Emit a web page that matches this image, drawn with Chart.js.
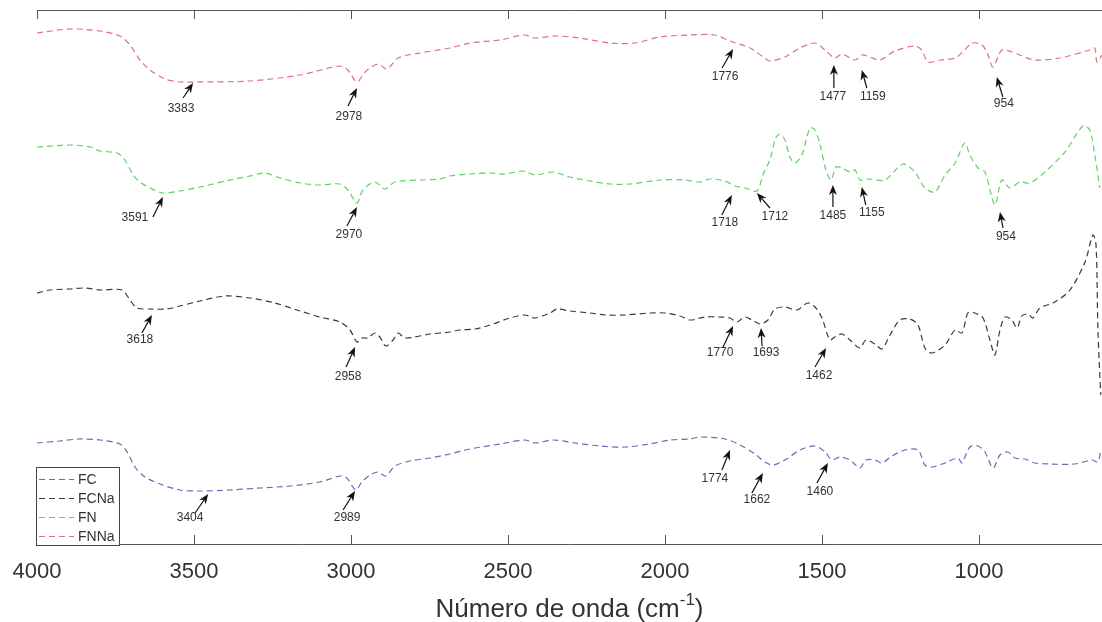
<!DOCTYPE html>
<html>
<head>
<meta charset="utf-8">
<script src="https://cdn.jsdelivr.net/npm/chart.js@4.4.0/dist/chart.umd.min.js"></script>
<style>
  html, body { margin: 0; padding: 0; background: #fff; }
  #wrap { width: 1102px; height: 622px; }
</style>
</head>
<body>
<div id="wrap"><canvas id="c" width="1102" height="622"></canvas></div>
<script>
// --- Dados (número de onda em cm-1, transmitância deslocada em u.a.) ---
const xTicks = [4000, 3500, 3000, 2500, 2000, 1500, 1000];

const fcWn = [4000,3927,3863,3799,3736,3713,3688,3656,3608,3545,3481,3385,3290,3194,3099,3035,3013,2994,2984,2965,2939,2914,2889,2860,2812,2748,2685,2621,2525,2446,2414,2357,2287,2207,2127,2048,1984,1920,1889,1809,1761,1713,1682,1656,1618,1570,1522,1490,1468,1443,1411,1379,1360,1331,1309,1277,1236,1194,1172,1150,1108,1067,1054,1029,1003,981,955,933,908,885,854,822,774,694,640,621,612];
const fcT  = [101,103,105,104,100,92,77,67,60,54,53,54,56,58,62,68,66,57,54,62,69,72,68,78,83,86,90,95,100,104,101,104,101,98,97,100,104,105,107,105,99,90,82,79,84,94,98,92,84,87,84,76,84,84,81,88,94,94,79,77,81,86,81,97,98,92,76,89,92,86,85,81,80,80,84,82,94];

const fcnaWn = [4000,3959,3895,3847,3799,3729,3704,3682,3640,3586,3545,3481,3401,3322,3242,3162,3099,3035,3003,2981,2965,2946,2924,2908,2889,2866,2850,2828,2748,2685,2653,2605,2557,2494,2446,2414,2366,2344,2303,2239,2191,2127,2048,2000,1952,1920,1873,1825,1793,1771,1745,1723,1697,1672,1650,1618,1580,1545,1522,1500,1475,1459,1436,1411,1379,1360,1331,1309,1283,1252,1220,1194,1172,1150,1108,1076,1054,1035,1013,987,965,949,933,917,895,879,863,844,828,806,758,710,662,637,627,621,612];
const fcnaT  = [251,254,255,256,254,254,244,236,235,235,238,243,248,246,241,233,227,222,214,202,206,206,211,207,198,204,211,206,210,212,214,215,219,226,229,226,231,235,233,231,229,229,231,231,228,224,227,227,226,222,227,224,220,224,235,237,234,241,237,226,204,207,210,204,196,204,200,195,209,224,225,219,196,191,199,214,211,231,231,226,204,189,214,227,224,216,228,230,226,236,242,254,282,309,299,214,149];

const fnWn = [4000,3895,3831,3799,3745,3720,3694,3672,3640,3599,3545,3481,3385,3322,3274,3226,3162,3099,3035,3010,2981,2962,2924,2892,2860,2780,2717,2685,2621,2557,2510,2452,2414,2357,2303,2239,2175,2111,2016,1936,1889,1857,1809,1777,1745,1707,1688,1666,1647,1634,1618,1602,1586,1564,1538,1522,1506,1487,1471,1455,1436,1411,1395,1379,1354,1299,1242,1204,1172,1140,1108,1076,1045,1029,1003,981,949,927,901,870,838,790,726,669,647,631,615];
const fnT  = [397,399,397,393,391,384,369,362,356,351,353,357,364,368,371,366,361,359,360,354,341,354,362,355,362,364,365,368,370,371,370,373,369,372,367,363,360,360,364,364,362,365,363,358,356,353,369,384,406,410,404,387,381,389,416,414,399,374,364,377,376,372,374,364,365,364,380,372,356,352,369,381,401,389,376,372,339,364,356,362,361,372,392,418,414,389,356];

const fnnaWn = [4000,3895,3799,3736,3704,3672,3640,3592,3545,3497,3322,3162,3035,3010,2981,2955,2914,2885,2850,2780,2685,2621,2525,2449,2414,2350,2271,2175,2096,2016,1920,1841,1793,1729,1682,1666,1618,1570,1522,1490,1459,1436,1395,1373,1347,1315,1268,1204,1182,1162,1124,1076,1045,1022,990,971,955,927,895,870,822,742,647,631,624,608];
const fnnaT  = [511,515,513,508,499,484,474,465,462,462,463,469,478,474,462,472,480,475,486,491,496,501,504,509,506,508,506,501,501,507,509,509,503,496,486,483,487,496,501,494,486,490,484,489,487,484,493,498,494,482,484,486,494,501,499,489,477,494,492,489,484,486,494,496,482,489];

// rótulos de picos: ponta da seta em (número de onda, transmitância)
const peakText = ['3383','2978','1776','1477','1159','954', '3591','2970','1718','1712','1485','1155','954', '3618','2958','1770','1693','1462', '3404','2989','1774','1662','1460'];
const peakWn   = [3503,2981,1783,1462,1373,943, 3599,2981,1787,1707,1465,1373,933, 3634,2987,1783,1694,1487, 3455,2987,1793,1688,1481];
const peakT    = [461,456,495,479,474,467, 347,337,349,351,359,357,332, 229,197,218,216,196, 50,53,94,71,81];

// desenho das setas (deslocamentos em px a partir da ponta)
const arrowLayout = [
  { tail: [-10, 15], label: [-12, 26] },
  { tail: [-9, 18],  label: [-8, 29] },
  { tail: [-11, 19], label: [-8, 28] },
  { tail: [0, 23],   label: [-1, 32] },
  { tail: [5, 18],   label: [11, 27] },
  { tail: [6, 20],   label: [7, 27] },
  { tail: [-10, 20], label: [-28, 21] },
  { tail: [-10, 19], label: [-8, 28] },
  { tail: [-10, 20], label: [-7, 28] },
  { tail: [13, 15],  label: [18, 24] },
  { tail: [0, 22],   label: [0, 31] },
  { tail: [4, 18],   label: [10, 26] },
  { tail: [3, 16],   label: [6, 25] },
  { tail: [-10, 18], label: [-12, 25] },
  { tail: [-9, 20],  label: [-7, 30] },
  { tail: [-10, 21], label: [-13, 27] },
  { tail: [1, 18],   label: [5, 25] },
  { tail: [-11, 19], label: [-7, 28] },
  { tail: [-13, 19], label: [-18, 24] },
  { tail: [-12, 19], label: [-8, 27] },
  { tail: [-8, 20],  label: [-15, 29] },
  { tail: [-11, 20], label: [-6, 27] },
  { tail: [-11, 20], label: [-8, 29] }
];

const FONT = '"Liberation Sans", Arial, sans-serif';

function toPoints(wn, t) {
  return wn.map((w, i) => ({ x: w, y: t[i] }));
}

function series(label, wn, t, color) {
  return {
    label,
    data: toPoints(wn, t),
    borderColor: color,
    borderWidth: 1.2,
    borderDash: [6, 4],
    pointRadius: 0,
    tension: 0.3,
    fill: false
  };
}

// --- Moldura, setas, legenda e título do eixo ---
const decor = {
  id: 'decor',
  afterDatasetsDraw(chart) {
    const { ctx, chartArea: a, scales: { x, y } } = chart;
    ctx.save();

    // eixos superior e inferior com marcas internas
    ctx.strokeStyle = '#555';
    ctx.lineWidth = 1;
    ctx.setLineDash([]);
    ctx.beginPath();
    ctx.moveTo(a.left, a.top + 0.5); ctx.lineTo(a.right, a.top + 0.5);
    ctx.moveTo(a.left, a.bottom + 0.5); ctx.lineTo(a.right, a.bottom + 0.5);
    xTicks.forEach(v => {
      const px = Math.round(x.getPixelForValue(v)) + 0.5;
      ctx.moveTo(px, a.top); ctx.lineTo(px, a.top + 9);
      ctx.moveTo(px, a.bottom); ctx.lineTo(px, a.bottom - 9);
    });
    ctx.stroke();

    // setas dos picos
    ctx.fillStyle = '#111';
    ctx.strokeStyle = '#111';
    ctx.font = '12px ' + FONT;
    ctx.textAlign = 'center';
    ctx.textBaseline = 'middle';
    peakText.forEach((txt, i) => {
      const tx = x.getPixelForValue(peakWn[i]);
      const ty = y.getPixelForValue(peakT[i]);
      const lay = arrowLayout[i];
      const sx = tx + lay.tail[0], sy = ty + lay.tail[1];
      const ang = Math.atan2(ty - sy, tx - sx);
      const len = 10, half = 4;
      const bx = tx - Math.cos(ang) * len, by = ty - Math.sin(ang) * len;
      const nx = tx - Math.cos(ang) * (len - 3), ny = ty - Math.sin(ang) * (len - 3);
      ctx.lineWidth = 1.2;
      ctx.beginPath();
      ctx.moveTo(sx, sy); ctx.lineTo(nx, ny);
      ctx.stroke();
      ctx.beginPath();
      ctx.moveTo(tx, ty);
      ctx.lineTo(bx + Math.sin(ang) * half, by - Math.cos(ang) * half);
      ctx.lineTo(nx, ny);
      ctx.lineTo(bx - Math.sin(ang) * half, by + Math.cos(ang) * half);
      ctx.closePath();
      ctx.fill();
      ctx.fillStyle = '#333';
      ctx.fillText(txt, tx + lay.label[0], ty + lay.label[1]);
      ctx.fillStyle = '#111';
    });

    // legenda
    const lx = a.left - 1, lw = 83, lh = 78;
    const ly = a.bottom - lh + 1;
    ctx.fillStyle = '#fff';
    ctx.fillRect(lx, ly, lw, lh);
    ctx.strokeStyle = '#444';
    ctx.lineWidth = 1;
    ctx.strokeRect(lx + 0.5, ly + 0.5, lw, lh);
    ctx.font = '14px ' + FONT;
    ctx.textAlign = 'left';
    chart.data.datasets.forEach((ds, i) => {
      const cy = ly + 12 + i * 19;
      ctx.strokeStyle = ds.borderColor;
      ctx.lineWidth = 1.2;
      ctx.setLineDash([6, 4]);
      ctx.beginPath();
      ctx.moveTo(lx + 3, cy + 0.5); ctx.lineTo(lx + 38, cy + 0.5);
      ctx.stroke();
      ctx.setLineDash([]);
      ctx.fillStyle = '#333';
      ctx.fillText(ds.label, lx + 42, cy + 1);
    });

    // título do eixo x com expoente
    const base = 'Número de onda (cm';
    const sup = '-1';
    const tail = ')';
    ctx.fillStyle = '#333';
    ctx.textBaseline = 'alphabetic';
    ctx.font = '26px ' + FONT;
    const w1 = ctx.measureText(base).width;
    const w3 = ctx.measureText(tail).width;
    ctx.font = '17px ' + FONT;
    const w2 = ctx.measureText(sup).width;
    const total = w1 + w2 + w3;
    let cx = (a.left + a.right) / 2 - total / 2;
    const by0 = 617;
    ctx.font = '26px ' + FONT;
    ctx.fillText(base, cx, by0);
    cx += w1;
    ctx.font = '17px ' + FONT;
    ctx.fillText(sup, cx, by0 - 12);
    cx += w2;
    ctx.font = '26px ' + FONT;
    ctx.fillText(tail, cx, by0);

    ctx.restore();
  }
};

new Chart(document.getElementById('c').getContext('2d'), {
  type: 'line',
  data: {
    datasets: [
      series('FC',   fcWn,   fcT,   '#6a6ab4'),
      series('FCNa', fcnaWn, fcnaT, '#3a3a3a'),
      series('FN',   fnWn,   fnT,   '#5fd25f'),
      series('FNNa', fnnaWn, fnnaT, '#e0707c')
    ]
  },
  options: {
    responsive: false,
    animation: false,
    devicePixelRatio: 1,
    layout: { padding: { left: 37, right: 0, top: 10, bottom: 0 } },
    plugins: { legend: { display: false }, tooltip: { enabled: false } },
    scales: {
      x: {
        type: 'linear',
        reverse: true,
        min: 608,
        max: 4000,
        grid: { display: false, drawTicks: false },
        border: { display: false },
        afterBuildTicks(scale) { scale.ticks = xTicks.map(v => ({ value: v })); },
        afterFit(scale) {
          scale.height = 78;
          scale.paddingLeft = 0;
          scale.paddingRight = 0;
        },
        ticks: {
          autoSkip: false,
          maxRotation: 0,
          padding: 15,
          color: '#333',
          font: { family: FONT, size: 22 },
          callback: v => String(v)
        }
      },
      y: {
        display: false,
        min: 0,
        max: 534
      }
    }
  },
  plugins: [decor]
});
</script>
</body>
</html>
